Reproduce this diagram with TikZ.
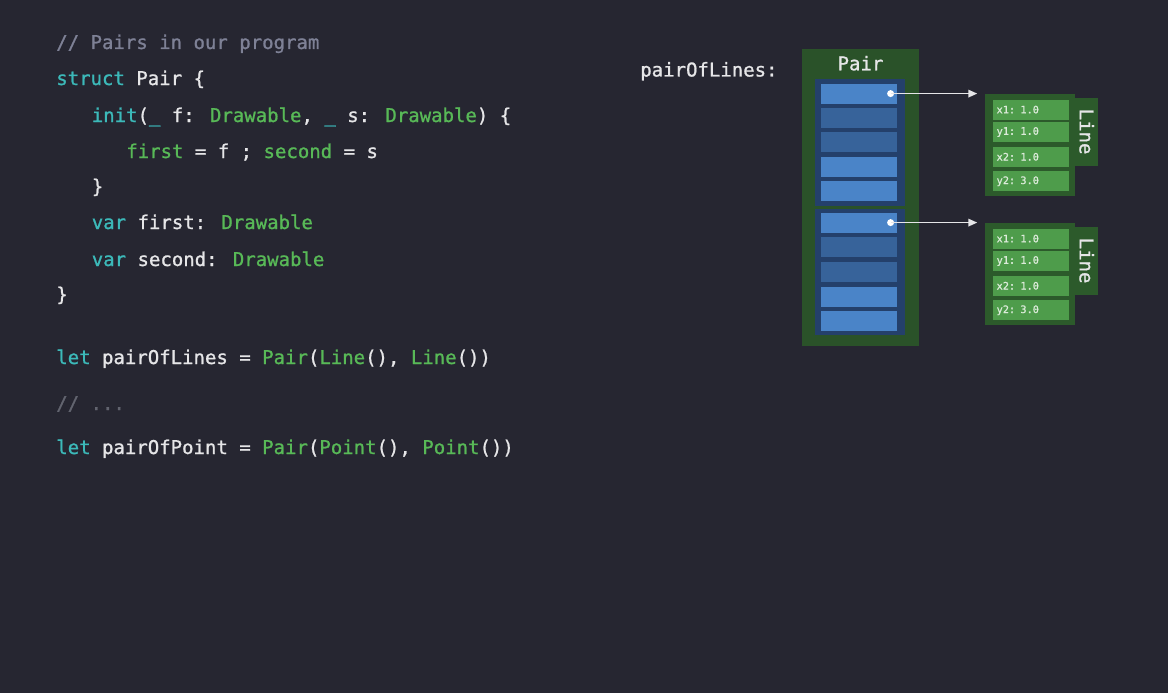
\documentclass[tikz,border=0pt]{standalone}
\usepackage{fontspec}
\newfontfamily\codefont[FakeBold=1]{DejaVu Sans Mono}
\usetikzlibrary{arrows.meta}
\usetikzlibrary{positioning}
\usetikzlibrary{calc}

\definecolor{bg}{HTML}{262631}
\definecolor{codewhite}{HTML}{E6E6E8}
\definecolor{kwteal}{HTML}{3CB9B9}
\definecolor{tygreen}{HTML}{58B957}
\definecolor{cmgray}{HTML}{7E8196}
\definecolor{cmdim}{HTML}{62646F}
\definecolor{pairgreen}{HTML}{2A5229}
\definecolor{linegreen}{HTML}{2C5A2B}
\definecolor{slotblue}{HTML}{24406B}
\definecolor{lightcell}{HTML}{4A84C8}
\definecolor{darkcell}{HTML}{37639A}
\definecolor{greencell}{HTML}{4E9C4B}
\definecolor{celltext}{HTML}{DCEBDA}

\newcommand{\kw}[1]{\textcolor{kwteal}{#1}}
\newcommand{\ty}[1]{\textcolor{tygreen}{#1}}
\newcommand{\cm}[1]{\textcolor{cmgray}{#1}}

\begin{document}
\begin{tikzpicture}[x=1pt,y=-1pt,>={Triangle[length=9pt,width=7.5pt]},
		semithick]
		\tikzstyle{code}=[anchor=base west,inner sep=0pt,text=codewhite,
		font=\codefont\fontsize{19}{23}\selectfont]
		\tikzstyle{box}=[anchor=north west,inner sep=0pt,draw=none]
		\tikzstyle{cell}=[box,minimum width=76pt,minimum height=20pt]
		\tikzstyle{field}=[box,fill=greencell,text=celltext,inner xsep=4pt,
		text width=68pt,minimum height=20pt,align=left,
		font=\codefont\fontsize{10.3}{12}\selectfont]
		\tikzstyle{dot}=[circle,fill=white,inner sep=0pt,minimum size=7pt]
		\tikzstyle{ptr}=[->,draw=codewhite,line width=1.6pt,shorten >=7pt]
		
		\fill[bg] (0,0) rectangle (1168,693);
		
		% the code
		\node[code] (c1)  at (56,49)    {\cm{// Pairs in our program}};
		\node[code] (c2)  at (56,85)    {\kw{struct} Pair \{};
		\node[code] (c3)  at (91.5,122) {\kw{init}(\kw{\_} f: \ty{Drawable}, \kw{\_} s: \ty{Drawable}) \{};
		\node[code] (c4)  at (126,158)  {\ty{first} = f ; \ty{second} = s};
		\node[code] (c5)  at (91.5,193) {\}};
		\node[code] (c6)  at (91.5,229) {\kw{var} first: \ty{Drawable}};
		\node[code] (c7)  at (91.5,266) {\kw{var} second: \ty{Drawable}};
		\node[code] (c8)  at (56,301)   {\}};
		\node[code] (c9)  at (56,364)   {\kw{let} pairOfLines = \ty{Pair}(\ty{Line}(), \ty{Line}())};
		\node[code] (c10) at (56,410)   {\textcolor{cmdim}{// ...}};
		\node[code] (c11) at (56,454)   {\kw{let} pairOfPoint = \ty{Pair}(\ty{Point}(), \ty{Point}())};
		
		% the pair in memory
		\node[code] (varname) at (640,76.5) {pairOfLines:};
		\node[box,fill=pairgreen,minimum width=117pt,minimum height=297pt] (pair) at (801.7,48.3) {};
		\node[code,anchor=base] (pairname) at ($(pair.north)+(0,22)$) {Pair};
		\node[box,fill=slotblue,minimum width=89.3pt,minimum height=127.4pt] (slotA) at (815,78.3) {};
		\node[box,fill=slotblue,minimum width=89.3pt,minimum height=126.7pt] (slotB) at (815,208.3) {};
		\foreach \i/\c in {1/lightcell,2/darkcell,3/darkcell,4/lightcell,5/lightcell}{
			\node[cell,fill=\c] (fa\i) at (821,{83.3+24.4*(\i-1)}) {};
			\node[cell,fill=\c] (fb\i) at (821,{212.3+24.7*(\i-1)}) {};
		}
		\node[dot] (dotA) at ($(fa1.east)+(-7,0)$) {};
		\node[dot] (dotB) at ($(fb1.east)+(-7,0)$) {};
		
		% the two lines
		\foreach \l/\y in {A/93.3,B/222.3}{
			\node[box,fill=linegreen,minimum width=90pt,minimum height=102.5pt] (line\l) at (984.3,\y) {};
			\node[box,fill=linegreen,minimum width=23pt,minimum height=68pt] (tab\l) at ($(line\l.north east)+(0,4)$) {};
			\node[code,anchor=center,rotate=-90] (name\l) at (tab\l.center) {Line};
			\node[field] (x1\l) at ($(line\l.north west)+(8,6)$)    {x1: 1.0};
			\node[field] (y1\l) at ($(line\l.north west)+(8,28.4)$) {y1: 1.0};
			\node[field] (x2\l) at ($(line\l.north west)+(8,53.2)$) {x2: 1.0};
			\node[field] (y2\l) at ($(line\l.north west)+(8,77.7)$) {y2: 3.0};
		}
		
		\draw[ptr] (dotA.center) -- (dotA -| lineA.west);
		\draw[ptr] (dotB.center) -- (dotB -| lineB.west);
		\end{tikzpicture}
\end{document}
